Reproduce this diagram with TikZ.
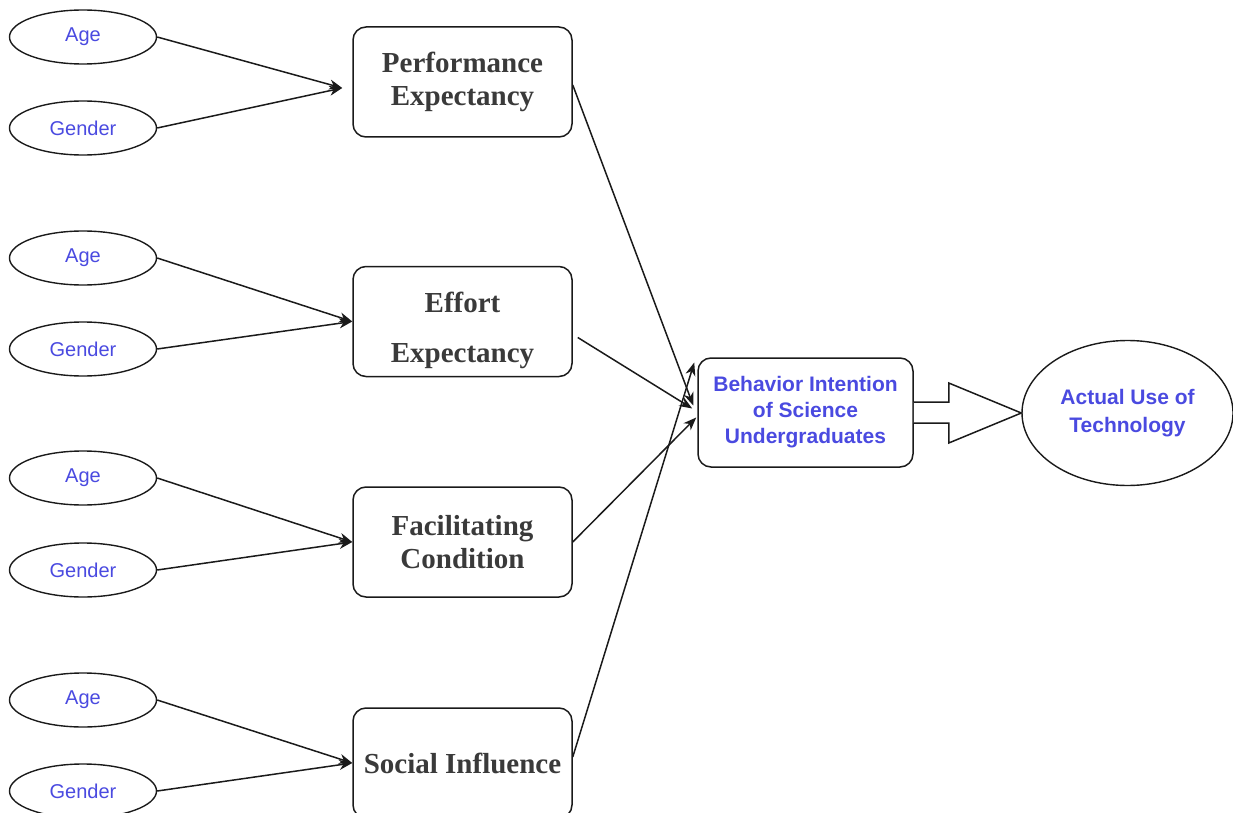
\documentclass[tikz,border=0pt]{standalone}
\usepackage{fontspec}
\setmainfont{Liberation Serif}
\newfontfamily\arialf{Liberation Sans}
\usetikzlibrary{shapes.geometric,arrows.meta,calc}
\definecolor{txtblue}{HTML}{4A4AE0}
\definecolor{txtgray}{HTML}{3A3A3A}
\definecolor{linegray}{HTML}{1A1A1A}
\begin{document}
\begin{tikzpicture}[x=1pt,y=-1pt,
  ell/.style={draw=linegray, line width=1.4pt, ellipse, minimum width=147pt, minimum height=54pt, inner sep=0pt,
    text=txtblue, font=\arialf\fontsize{20}{24}\selectfont},
  cbox/.style={draw=linegray, line width=1.5pt, rounded corners=13pt, minimum width=219pt, minimum height=110pt,
    inner sep=0pt, align=center, text=txtgray, font=\bfseries\fontsize{29}{33}\selectfont},
  bibox/.style={draw=linegray, line width=1.5pt, rounded corners=13pt, minimum width=215pt, minimum height=109pt,
    inner sep=0pt, align=center, text=txtblue, font=\arialf\bfseries\fontsize{21}{26}\selectfont},
  auell/.style={draw=linegray, line width=1.4pt, ellipse, minimum width=211pt, minimum height=145pt, inner sep=0pt,
    align=center, text=txtblue, font=\arialf\bfseries\fontsize{21}{28}\selectfont},
  conn/.style={draw=linegray, line width=1.5pt, -{Stealth[length=13pt,width=10pt,inset=4pt]}},
  bigarrow/.style={draw=linegray, line width=1.5pt, fill=white, line join=miter}
]
\useasboundingbox (0,0) rectangle (1233,813);

% left ellipses
\node[ell] (a1) at (83,37) {Age};
\node[ell] (g1) at (83,128) {Gender};
\node[ell] (a2) at (83,258) {Age};
\node[ell] (g2) at (83,349) {Gender};
\node[ell] (a3) at (83,478) {Age};
\node[ell] (g3) at (83,570) {Gender};
\node[ell] (a4) at (83,700) {Age};
\node[ell] (g4) at (83,791) {Gender};

% construct boxes
\node[cbox] (perf) at (462.5,82) {Performance\\Expectancy};
\node[cbox] (eff) at (462.5,321.5) {\rule{0pt}{38pt}Effort\\[17pt]Expectancy};
\node[cbox] (fac) at (462.5,542) {Facilitating\\Condition};
\node[cbox] (soc) at (462.5,763) {Social Influence};

% behavior intention and actual use
\node[bibox] (bi) at (805.5,412.5) {Behavior Intention\\of Science\\Undergraduates};
\node[auell] (au) at (1127.5,413) {Actual Use of\\Technology};

% arrow end points
\coordinate (pin1) at ($(perf.west)+(-10,6)$);
\coordinate (bi1) at ($(bi.west)+(-4,-7)$);
\coordinate (bi2) at ($(bi.west)+(-5,-4)$);
\coordinate (bi3) at ($(bi.west)+(-1,5)$);
\coordinate (bi4) at ($(bi.west)+(-3,-50)$);
\coordinate (effout) at ($(eff.east)+(5,16)$);
\coordinate (perfout) at ($(perf.east)+(0,3)$);
\coordinate (socout) at ($(soc.east)+(0,-6)$);

% moderator arrows
\draw[conn] (a1.east) -- (pin1);
\draw[conn] (g1.east) -- (pin1);
\draw[conn] (a2.east) -- (eff.west);
\draw[conn] (g2.east) -- (eff.west);
\draw[conn] (a3.east) -- (fac.west);
\draw[conn] (g3.east) -- (fac.west);
\draw[conn] (a4.east) -- (soc.west);
\draw[conn] (g4.east) -- (soc.west);

% construct to intention arrows
\draw[conn] (perfout) -- (bi1);
\draw[conn] (effout) -- (bi2);
\draw[conn] (fac.east) -- (bi3);
\draw[conn] (socout) -- (bi4);

% hollow block arrow
\draw[bigarrow] ($(bi.east)+(0,-10.5)$) -- ++(35,0) -- ++(0,-19) -- (au.west)
  -- ($(bi.east)+(35,30.5)$) -- ++(0,-20) -- ($(bi.east)+(0,10.5)$);
\end{tikzpicture}
\end{document}
